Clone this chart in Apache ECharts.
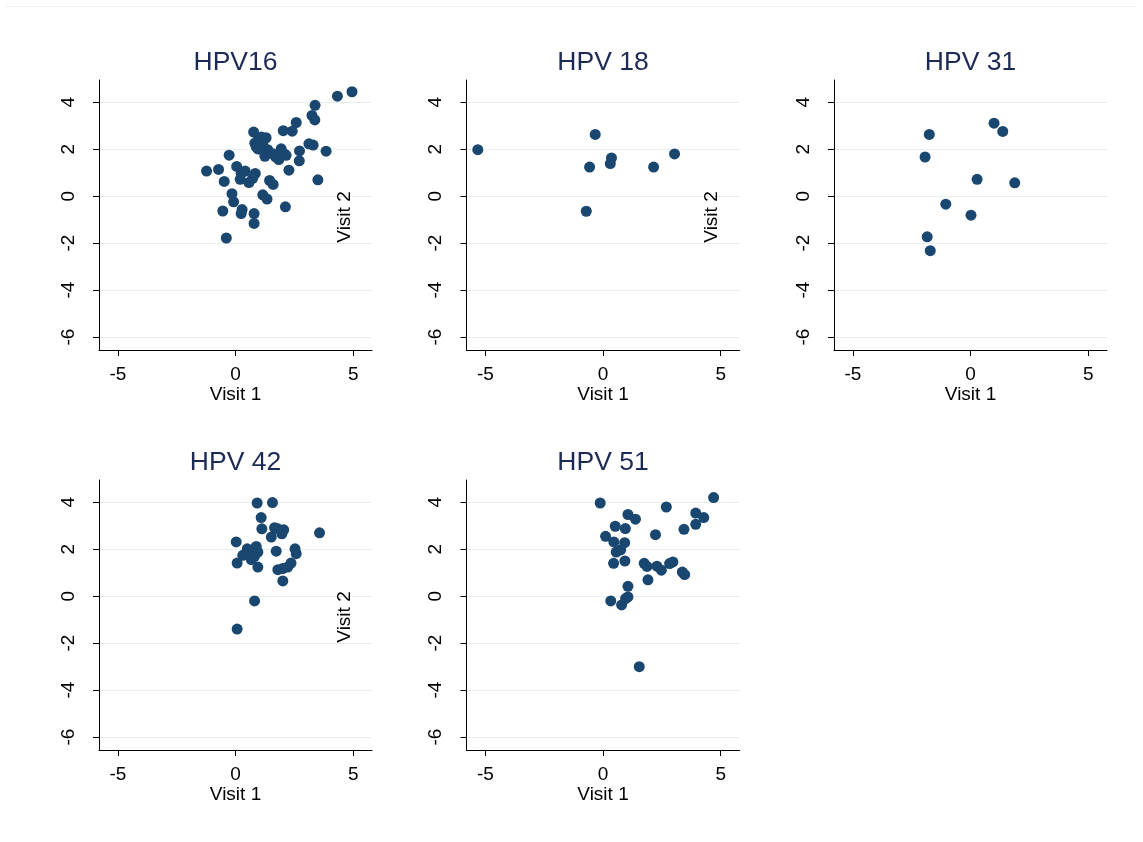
<!DOCTYPE html>
<html><head><meta charset="utf-8">
<script src="https://cdn.jsdelivr.net/npm/echarts@6/dist/echarts.min.js"></script>
<style>html,body{margin:0;padding:0;background:#fff}#c{width:1143px;height:842px}</style>
</head><body><div id="c"></div>
<script>
const titles = ['HPV16', 'HPV 18', 'HPV 31', 'HPV 42', 'HPV 51'];
const xTicks = [-5, 0, 5];
const yTicks = [-6, -4, -2, 0, 2, 4];
const hpv16 = [[-1.23,1.07],[-0.72,1.14],[-0.27,1.75],[-0.48,0.63],[-0.54,-0.63],[-0.39,-1.78],[-0.15,0.11],[-0.08,-0.24],[0.05,1.27],[0.24,0.97],[0.2,0.72],[0.41,1.07],[0.28,-0.57],[0.24,-0.74],[0.57,0.58],[0.73,0.76],[0.84,0.97],[0.79,-0.74],[0.79,-1.16],[0.77,2.73],[0.82,2.26],[0.95,2.02],[0.88,2.1],[0.95,2.38],[1.1,2.52],[1.3,2.49],[1.16,2.23],[1.05,2.0],[1.25,1.7],[1.16,0.06],[1.34,-0.12],[1.45,0.67],[1.6,0.5],[1.37,1.98],[1.58,1.81],[1.7,1.68],[1.84,1.56],[1.94,2.02],[2.08,1.8],[2.15,1.74],[2.03,2.79],[2.41,2.77],[2.58,3.14],[2.12,-0.45],[2.27,1.11],[2.72,1.93],[2.71,1.51],[3.12,2.23],[3.3,2.18],[3.25,3.44],[3.37,3.25],[3.38,3.87],[3.5,0.7],[3.85,1.92],[4.33,4.26],[4.95,4.45]];
const hpv18 = [[-5.32,1.98],[-0.33,2.63],[-0.57,1.24],[0.36,1.63],[0.31,1.39],[2.15,1.24],[3.04,1.8],[-0.71,-0.64]];
const hpv31 = [[-1.75,2.63],[-1.93,1.67],[1.0,3.11],[1.37,2.76],[0.28,0.72],[1.88,0.57],[-1.05,-0.34],[0.02,-0.81],[-1.84,-1.73],[-1.71,-2.32]];
const hpv42 = [[0.92,3.97],[1.57,3.99],[1.09,3.35],[1.12,2.87],[1.66,2.92],[1.8,2.87],[2.05,2.83],[1.97,2.66],[1.52,2.52],[3.57,2.7],[0.03,2.31],[0.5,2.02],[0.55,1.81],[0.88,2.12],[0.95,1.88],[0.81,1.7],[0.31,1.74],[0.67,1.56],[0.95,1.24],[1.73,1.92],[2.53,2.02],[2.58,1.81],[0.07,1.41],[1.8,1.13],[2.01,1.18],[2.22,1.24],[2.36,1.41],[2.01,0.65],[0.81,-0.2],[0.07,-1.4]];
const hpv51 = [[-0.12,3.97],[2.69,3.8],[4.7,4.2],[3.94,3.54],[4.28,3.35],[3.94,3.06],[3.44,2.85],[1.06,3.48],[1.38,3.28],[0.52,2.98],[0.95,2.88],[2.23,2.62],[0.11,2.55],[0.46,2.31],[0.92,2.28],[0.56,1.88],[0.75,1.97],[0.45,1.4],[0.93,1.5],[1.75,1.4],[1.87,1.27],[2.29,1.28],[2.48,1.11],[2.83,1.39],[2.97,1.46],[3.37,1.03],[3.47,0.92],[1.91,0.7],[1.06,0.42],[1.06,-0.03],[0.96,-0.1],[0.33,-0.2],[0.79,-0.37],[1.54,-3.0]];
const datasets = [hpv16, hpv18, hpv31, hpv42, hpv51];

const FONT = 'Liberation Sans, Arial, Helvetica, sans-serif';
const chart = echarts.init(document.getElementById('c'));
const grids = [], xAxes = [], yAxes = [], series = [], titleArr = [];
datasets.forEach((d, i) => {
  const col = i % 3, row = Math.floor(i / 3);
  const left = 99 + col * 367.5, top = 80 + row * 400;
  grids.push({left: left, top: top, width: 273, height: 270});
  titleArr.push({text: titles[i], left: left + 136.5, top: top - 31, textAlign: 'center', padding: 0,
    textStyle: {fontFamily: FONT, fontSize: 26.5, fontWeight: 'normal', color: '#1c2a55'}});
  xAxes.push({type: 'value', gridIndex: i, min: -5.8, max: 5.8,
    name: 'Visit 1', nameLocation: 'middle', nameGap: 32,
    nameTextStyle: {fontFamily: FONT, fontSize: 19, color: '#000'},
    axisLine: {show: true, onZero: false, lineStyle: {color: '#000', width: 1}},
    axisTick: {show: true, customValues: xTicks, length: 6, lineStyle: {color: '#000'}},
    axisLabel: {customValues: xTicks, fontFamily: FONT, fontSize: 19, color: '#000', margin: 15},
    splitLine: {show: false}});
  yAxes.push({type: 'value', gridIndex: i, min: -6.55, max: 4.95,
    axisLine: {show: true, onZero: false, lineStyle: {color: '#000', width: 1}},
    axisTick: {show: true, customValues: yTicks, length: 6, lineStyle: {color: '#000'}},
    axisLabel: {customValues: yTicks, rotate: 90, fontFamily: FONT, fontSize: 19, color: '#000', margin: 21},
    splitLine: {show: true, lineStyle: {color: '#e6eef0', width: 1}}});
  series.push({type: 'scatter', xAxisIndex: i, yAxisIndex: i, data: d, symbolSize: 11,
    itemStyle: {color: '#1a476f', opacity: 1}, emphasis: {disabled: true}});
});
const v2 = [[345, 217], [712, 217], [345, 617]].map(p => ({
  type: 'text', x: p[0], y: p[1], rotation: Math.PI / 2, z: 100,
  style: {text: 'Visit 2', fontFamily: FONT, fontSize: 19, fill: '#000', align: 'center', verticalAlign: 'middle'}
}));
chart.setOption({
  animation: false,
  title: titleArr,
  grid: grids, xAxis: xAxes, yAxis: yAxes, series: series,
  graphic: [{type: 'line', shape: {x1: 6, y1: 6.5, x2: 1137, y2: 6.5}, style: {stroke: '#eef1f3', lineWidth: 1}}].concat(v2)
});
</script></body></html>
